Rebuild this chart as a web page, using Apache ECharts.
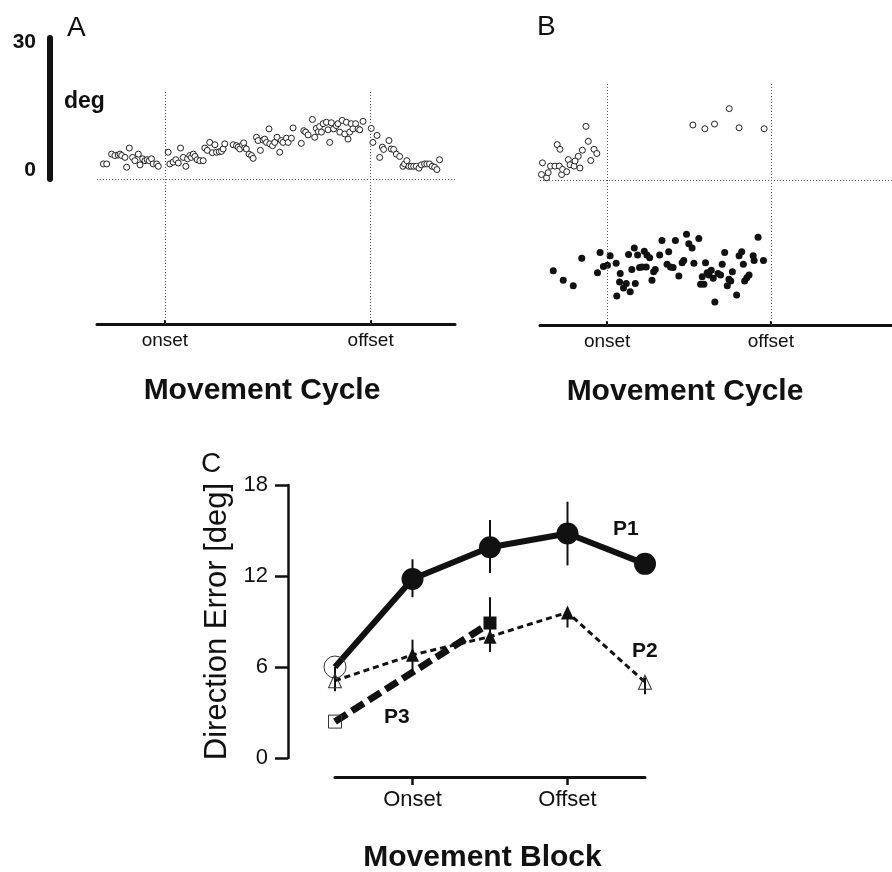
<!DOCTYPE html>
<html>
<head>
<meta charset="UTF-8">
<title>Direction error</title>
<script src="https://cdn.jsdelivr.net/npm/echarts@6/dist/echarts.min.js"></script>
<style>
  html, body { margin: 0; padding: 0; background: #fff; }
  #chart { width: 892px; height: 872px; }
</style>
</head>
<body>
<div id="chart"></div>
<script>
// panel A: open circles, [cycle position (onset=0, offset=100), deg]
var cycleA = [
  [-29.9,3.2],[-28.3,3.2],[-25.9,5.3],[-24.3,5.0],[-22.7,5.1],[-21.8,5.3],[-21.0,5.0],[-19.4,4.6],
  [-18.6,2.5],[-17.3,6.6],[-15.7,4.6],[-14.6,3.9],[-12.9,5.3],[-12.1,3.0],[-10.8,4.3],[-9.7,3.9],
  [-8.6,4.1],[-7.6,3.9],[-6.5,4.3],[-5.7,3.2],[-4.0,3.2],[-3.2,2.7],
  [1.6,5.7],[2.4,3.2],[4.0,3.6],[5.3,4.1],[6.5,3.4],[7.6,6.6],[8.9,4.6],[10.2,2.7],[11.0,4.3],
  [12.1,5.0],[12.9,4.6],[13.8,5.3],[14.6,4.8],[15.7,4.1],[17.0,3.9],[18.6,3.9],[19.4,6.6],
  [20.6,6.1],[21.8,7.8],[23.1,5.6],[24.3,7.3],[25.1,5.7],[26.4,5.8],[27.5,5.9],[28.3,6.4],
  [29.1,7.5],[33.2,7.3],[34.8,7.1],[35.6,6.8],[36.4,6.4],[37.7,7.3],[38.3,7.7],[38.8,6.6],
  [39.6,6.4],[40.9,5.3],[42.1,5.0],[42.9,4.4],[44.5,8.9],[45.3,8.2],[46.4,6.1],[47.7,8.3],
  [48.5,8.5],[49.4,7.8],[50.6,10.7],[51.0,7.5],[52.3,7.1],[53.4,7.8],[54.5,8.9],[55.8,5.7],
  [56.6,8.2],[57.4,7.8],[59.1,8.7],[59.9,7.8],[61.5,8.7],[62.3,10.9],[66.3,7.6],[67.5,10.3],
  [68.4,10.0],[69.6,9.4],[71.7,12.7],[72.8,8.9],[73.6,10.8],[74.6,10.1],[75.2,11.2],[76.1,10.0],
  [76.9,11.8],[78.5,12.1],[79.3,10.5],[80.1,7.8],[80.9,12.0],[82.0,10.7],[83.3,11.4],[84.1,11.8],
  [85.0,10.0],[86.2,12.5],[87.4,9.6],[88.2,12.1],[89.0,8.5],[89.8,10.0],[90.6,11.8],[91.4,10.7],
  [92.7,11.8],[93.9,10.7],[94.7,10.5],[96.3,12.3],
  [100.3,10.8],[101.1,7.8],[103.1,9.3],[104.4,4.6],[105.7,6.8],[106.3,6.3],[108.9,8.2],[110.0,6.4],
  [111.2,6.3],[112.5,5.3],[114.1,4.8],[115.7,2.7],[116.5,3.2],[117.6,3.9],[118.6,2.7],[119.7,2.7],
  [120.9,2.7],[122.2,2.7],[123.5,2.3],[124.6,3.0],[126.2,3.2],[127.3,3.2],[128.6,3.2],[129.9,2.7],
  [131.1,2.5],[132.2,2.0],[133.5,4.1]
];

// panel B: open circles (above zero) and filled dots (below zero)
var cycleBOpen = [
  [-40.1,1.2],[-39.5,3.7],[-37.0,0.5],[-36.0,1.6],[-34.6,3.0],[-31.9,3.0],[-30.5,7.6],[-29.2,3.0],
  [-28.8,6.6],[-27.8,1.2],[-27.2,2.3],[-24.7,1.8],[-23.7,4.4],[-22.7,3.3],[-20.2,3.0],[-19.6,4.1],
  [-17.6,5.1],[-16.6,2.6],[-15.1,6.4],[-12.9,11.5],[-11.5,8.3],[-10.0,4.2],[-8.0,6.6],[-6.3,5.7],
  [52.4,11.8],[59.7,11.0],[65.6,12.0],[74.6,15.3],[80.6,11.2],[95.9,11.0]
];
var cycleBFilled = [
  [-32.9,-19.4],[-26.8,-21.4],[-20.7,-22.6],[-15.5,-16.7],[-5.9,-19.8],[-4.3,-15.5],[-2.3,-18.5],
  [0.2,-18.2],[1.8,-16.2],[5.5,-17.8],[5.9,-24.8],[8.0,-20.0],[7.6,-21.8],[10.0,-23.1],[11.7,-22.1],
  [13.1,-15.9],[14.1,-23.9],[15.1,-19.1],[16.6,-14.5],[17.2,-22.1],[18.6,-16.0],[19.8,-18.7],
  [21.3,-18.6],[22.7,-15.2],[23.9,-18.6],[24.3,-16.0],[26.0,-16.6],[27.4,-21.4],[28.4,-19.6],
  [29.4,-19.1],[32.1,-16.0],[33.5,-12.9],[36.6,-18.0],[37.6,-15.3],[38.7,-18.6],[40.3,-18.7],
  [41.7,-12.9],[43.8,-20.5],[45.8,-17.7],[46.8,-17.2],[48.5,-11.6],[49.9,-13.6],[51.9,-14.5],
  [53.0,-17.8],[56.0,-12.5],[57.1,-22.3],[58.1,-20.7],[59.1,-22.3],[60.1,-17.7],[61.1,-19.8],
  [62.2,-20.3],[63.6,-19.3],[64.8,-21.0],[65.8,-26.1],[67.7,-20.0],[69.3,-20.3],[70.3,-18.0],
  [71.8,-15.5],[73.4,-22.6],[74.4,-21.2],[75.5,-21.6],[76.5,-19.6],[79.1,-24.6],[80.6,-16.2],
  [82.2,-15.3],[83.2,-18.0],[84.0,-21.6],[85.3,-20.9],[86.7,-20.3],[89.2,-16.2],[89.8,-17.2],
  [92.2,-12.2],[95.5,-17.2]
];
var cycleTicks = [0, 100];
var cycleTickLabels = ['onset', 'offset'];
var scaleBar = [0, 30];

// panel C: movement blocks 0..4
var blockTicks = [1, 3];
var blockTickLabels = ['Onset', 'Offset'];
var p1Blocks = [0, 1, 2, 3, 4];
var p1Mean = [6.0, 11.8, 13.9, 14.8, 12.8];
var p1Low = [null, 10.6, 12.2, 12.7, null];
var p1High = [null, 13.1, 15.7, 16.9, null];
var p2Blocks = [0, 1, 2, 3, 4];
var p2Mean = [5.1, 6.8, 8.0, 9.6, 5.0];
var p2Low = [4.4, 5.7, 7.0, 8.6, 4.2];
var p2High = [6.0, 7.8, 8.6, 9.6, 5.3];
var p3Blocks = [0, 2];
var p3Mean = [2.4, 8.9];
var p3Low = [null, 7.0];
var p3High = [null, 10.6];

var fam = '"Liberation Sans", Arial, Helvetica, sans-serif';
var ink = '#111';

function pairs(xs, ys, openIdx) {
  return xs.map(function (x, i) {
    var item = { value: [x, ys[i]] };
    if (openIdx.indexOf(i) >= 0) {
      item.itemStyle = { color: 'rgba(255,255,255,0)', borderColor: '#333', borderWidth: 1 };
    }
    return item;
  });
}
function bars(xs, lo, hi) {
  var out = [];
  for (var i = 0; i < xs.length; i++) {
    if (lo[i] != null) out.push([xs[i], lo[i], hi[i]]);
  }
  return out;
}
function renderBar(params, api) {
  var a = api.coord([api.value(0), api.value(1)]);
  var b = api.coord([api.value(0), api.value(2)]);
  return { type: 'line', shape: { x1: a[0], y1: a[1], x2: b[0], y2: b[1] },
           style: { stroke: ink, lineWidth: 2 } };
}

var dotted = { type: [1, 2], color: '#555', width: 1 };
function refLines() {
  return { symbol: 'none', silent: true, label: { show: false }, lineStyle: dotted,
           data: [{ xAxis: cycleTicks[0] }, { xAxis: cycleTicks[1] }, { yAxis: 0 }] };
}
function cycleAxis(idx, min, max, shift) {
  return {
    type: 'value', gridIndex: idx, min: min, max: max,
    axisLine: { onZero: false, lineStyle: { color: ink, width: 3 } },
    axisTick: { customValues: cycleTicks, inside: true, length: 4, lineStyle: { color: ink, width: 2 } },
    axisLabel: { customValues: cycleTicks, margin: 7, color: ink, fontSize: 19, fontFamily: fam,
                 formatter: function (v) { return cycleTickLabels[cycleTicks.indexOf(v)]; } },
    splitLine: { show: false },
    name: 'Movement Cycle', nameLocation: 'middle', nameGap: 52,
    nameTextStyle: { fontSize: 30, fontWeight: 'bold', color: ink, fontFamily: fam, padding: [0, shift, 0, 0] }
  };
}

var chart = echarts.init(document.getElementById('chart'), null, { renderer: 'canvas' });
var option = {
  animation: false,
  backgroundColor: '#fff',
  textStyle: { fontFamily: fam },
  grid: [
    { left: 50, top: 38, width: 1, height: 141, outerBoundsMode: 'none' },
    { left: 97, top: 90, width: 358, height: 234, outerBoundsMode: 'none' },
    { left: 540, top: 82, right: 0, height: 243, outerBoundsMode: 'none' },
    { left: 335, top: 485, right: 247, bottom: 114, outerBoundsMode: 'none' }
  ],
  xAxis: [
    { type: 'value', gridIndex: 0, min: 0, max: 1, show: false },
    cycleAxis(1, -33, 141, 28),
    cycleAxis(2, -41, 174, 62),
    {
      type: 'value', gridIndex: 3, min: 0, max: 4, offset: 19,
      axisLine: { onZero: false, lineStyle: { color: ink, width: 3 } },
      axisTick: { customValues: blockTicks, length: 8, lineStyle: { color: ink, width: 2.5 } },
      axisLabel: { customValues: blockTicks, margin: 12, color: ink, fontSize: 22, fontFamily: fam,
                   formatter: function (v) { return blockTickLabels[blockTicks.indexOf(v)]; } },
      splitLine: { show: false },
      name: 'Movement Block', nameLocation: 'middle', nameGap: 66,
      nameTextStyle: { fontSize: 30, fontWeight: 'bold', color: ink, fontFamily: fam, padding: [0, 15, 0, 0] }
    }
  ],
  yAxis: [
    {
      type: 'value', gridIndex: 0, min: scaleBar[0], max: scaleBar[1], interval: 30,
      axisLine: { show: true, onZero: false, lineStyle: { color: ink, width: 6 } },
      axisTick: { show: false }, splitLine: { show: false },
      axisLabel: {
        margin: 14,
        formatter: function (v) { return v === 30 ? '{t|30}' : '{b|0}'; },
        rich: {
          t: { padding: [8, 0, 0, 0], fontSize: 21, fontWeight: 'bold', color: ink, fontFamily: fam },
          b: { padding: [0, 0, 18, 0], fontSize: 21, fontWeight: 'bold', color: ink, fontFamily: fam }
        }
      }
    },
    { type: 'value', gridIndex: 1, min: -31, max: 19, show: false },
    { type: 'value', gridIndex: 2, min: -31, max: 21, show: false },
    {
      type: 'value', gridIndex: 3, min: 0, max: 18, interval: 6, offset: 47,
      axisLine: { show: true, onZero: false, lineStyle: { color: ink, width: 2.5 } },
      axisTick: { show: true, length: 13, lineStyle: { color: ink, width: 2.5 } },
      axisLabel: { margin: 20, color: ink, fontSize: 22, fontFamily: fam },
      splitLine: { show: false },
      name: 'Direction Error [deg]', nameLocation: 'middle', nameRotate: 90, nameGap: 55,
      nameTextStyle: { fontSize: 31, color: ink, fontFamily: fam }
    }
  ],
  series: [
    {
      type: 'scatter', xAxisIndex: 1, yAxisIndex: 1, data: cycleA, symbolSize: 6,
      itemStyle: { color: '#fff', borderColor: '#222', borderWidth: 1, opacity: 1 },
      markLine: refLines()
    },
    {
      type: 'scatter', xAxisIndex: 2, yAxisIndex: 2, data: cycleBOpen, symbolSize: 6,
      itemStyle: { color: '#fff', borderColor: '#222', borderWidth: 1, opacity: 1 },
      markLine: refLines()
    },
    {
      type: 'scatter', xAxisIndex: 2, yAxisIndex: 2, data: cycleBFilled, symbolSize: 7,
      itemStyle: { color: ink, opacity: 1 }
    },
    {
      name: 'P3', type: 'line', xAxisIndex: 3, yAxisIndex: 3,
      data: pairs(p3Blocks, p3Mean, [0]), symbol: 'rect', symbolSize: 13,
      lineStyle: { color: ink, width: 7, type: [14, 6] }, itemStyle: { color: ink }
    },
    {
      name: 'P2', type: 'line', xAxisIndex: 3, yAxisIndex: 3,
      data: pairs(p2Blocks, p2Mean, [0, 4]), symbol: 'triangle', symbolSize: [13, 14],
      lineStyle: { color: ink, width: 3, type: [6, 4] }, itemStyle: { color: ink }
    },
    {
      name: 'P1', type: 'line', xAxisIndex: 3, yAxisIndex: 3,
      data: pairs(p1Blocks, p1Mean, [0]), symbol: 'circle', symbolSize: 22,
      lineStyle: { color: ink, width: 6 }, itemStyle: { color: ink }
    },
    {
      type: 'custom', xAxisIndex: 3, yAxisIndex: 3, renderItem: renderBar, encode: { x: 0, y: [1, 2] },
      data: bars(p1Blocks, p1Low, p1High).concat(bars(p2Blocks, p2Low, p2High), bars(p3Blocks, p3Low, p3High)),
      z: 3
    }
  ],
  graphic: [
    { type: 'text', left: 67, top: 14, style: { text: 'A', fontSize: 28, fill: ink, fontFamily: fam } },
    { type: 'text', left: 537, top: 13, style: { text: 'B', fontSize: 28, fill: ink, fontFamily: fam } },
    { type: 'text', left: 201, top: 450, style: { text: 'C', fontSize: 28, fill: ink, fontFamily: fam } },
    { type: 'text', left: 64, top: 90, style: { text: 'deg', fontSize: 23, fontWeight: 'bold', fill: ink, fontFamily: fam } },
    { type: 'text', left: 613, top: 519, style: { text: 'P1', fontSize: 21, fontWeight: 'bold', fill: ink, fontFamily: fam } },
    { type: 'text', left: 632, top: 641, style: { text: 'P2', fontSize: 21, fontWeight: 'bold', fill: ink, fontFamily: fam } },
    { type: 'text', left: 384, top: 707, style: { text: 'P3', fontSize: 21, fontWeight: 'bold', fill: ink, fontFamily: fam } }
  ]
};
chart.setOption(option);
</script>
</body>
</html>
